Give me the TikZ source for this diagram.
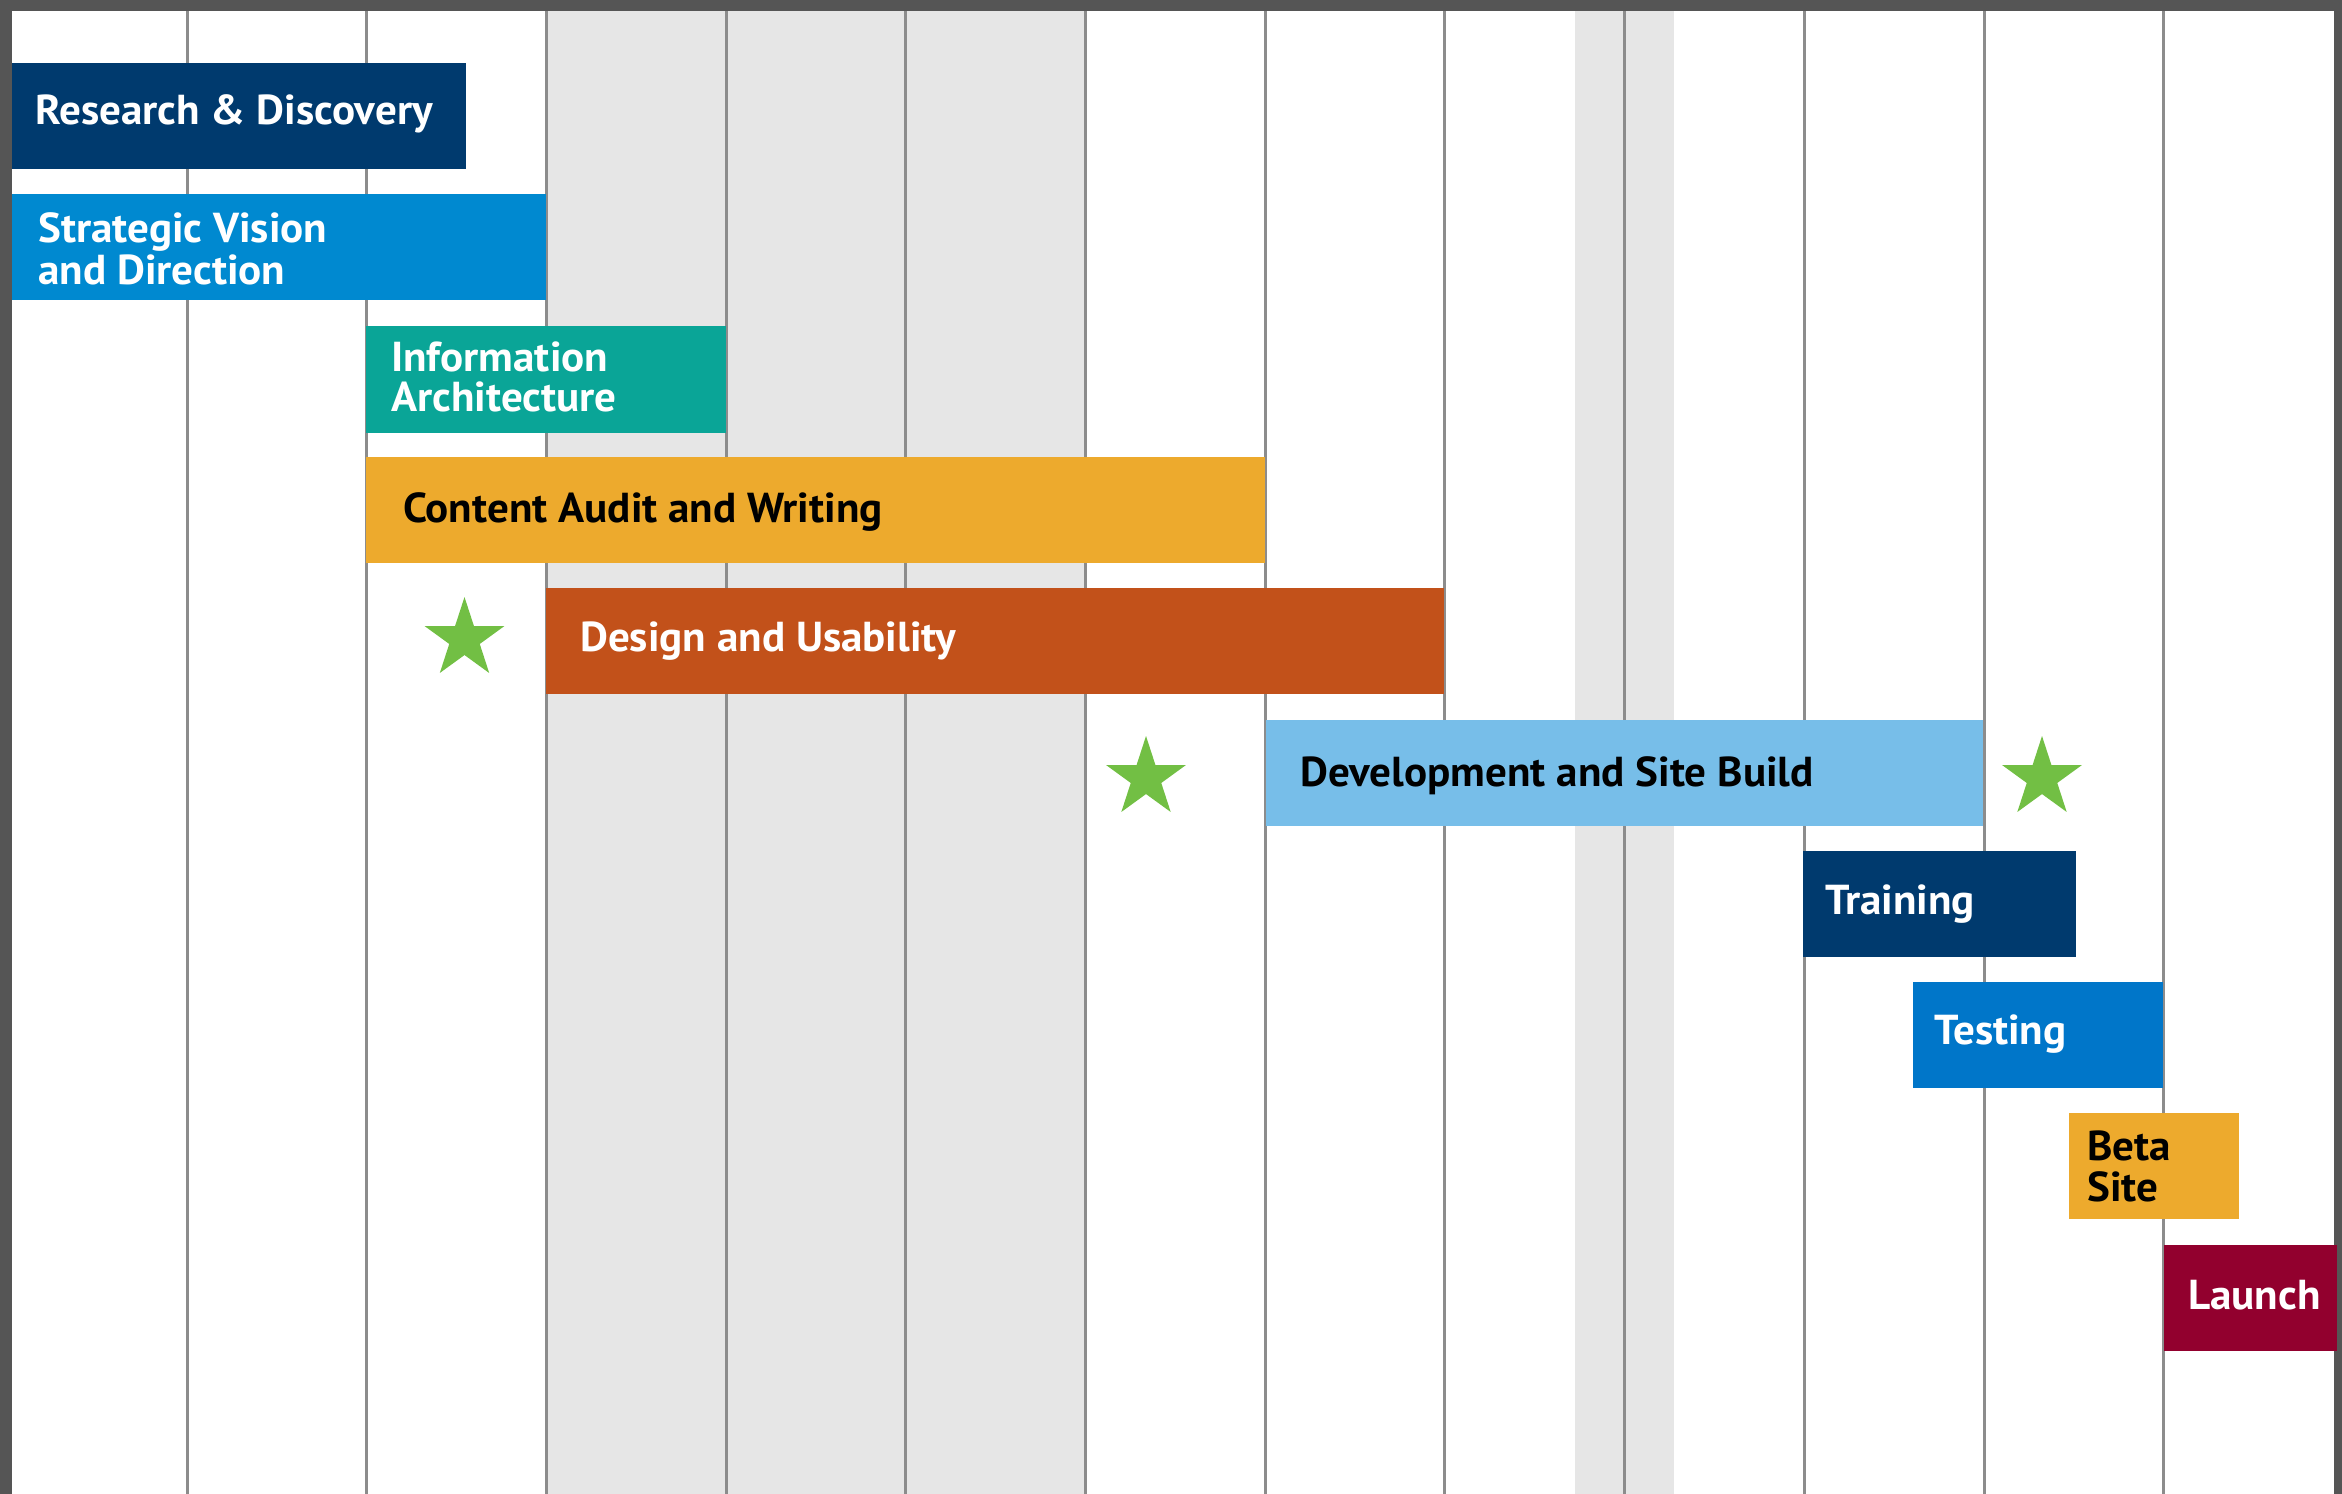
\documentclass[tikz,border=0pt]{standalone}
\usepackage{fontspec}
\setmainfont{PT Sans}[FakeStretch=1.03]
\usetikzlibrary{shapes.geometric}
\definecolor{navy}{HTML}{003A6E}
\definecolor{svblue}{HTML}{0089D0}
\definecolor{teal}{HTML}{0AA597}
\definecolor{gold}{HTML}{EDAA2D}
\definecolor{rust}{HTML}{C2511A}
\definecolor{skyblue}{HTML}{77BEE9}
\definecolor{testblue}{HTML}{0076C9}
\definecolor{wine}{HTML}{92002E}
\definecolor{stargreen}{HTML}{72BF44}
\definecolor{colshade}{HTML}{E6E6E6}
\definecolor{gridgray}{HTML}{8C8C8C}
\definecolor{frame}{HTML}{555555}
\tikzset{
  bar/.style={rectangle, draw=none, inner sep=0pt, anchor=north west},
  lbl/.style={anchor=base west, inner sep=0pt, font=\fontsize{42}{42}\selectfont\bfseries},
  milestone/.style={star, star points=5, star point ratio=2.618, minimum size=84bp, inner sep=0pt, fill=stargreen, draw=none},
  gridline/.style={draw=gridgray, line width=3bp}
}
\begin{document}
\begin{tikzpicture}[x=1bp,y=-1bp]
\useasboundingbox (0,0) rectangle (2342,1494);
\fill[white] (0,0) rectangle (2342,1494);
% shaded columns
\fill[colshade] (546.4,0) rectangle (1085.5,1494);
\fill[colshade] (1575,0) rectangle (1674,1494);
% grid lines
\foreach \gx in {187,366.7,546.4,726.1,905.8,1085.5,1265.2,1444.9,1624.6,1804.3,1984,2163.7}
  \draw[gridline] (\gx,11) -- (\gx,1494);
% frame
\fill[frame] (0,0) rectangle (2342,11);
\fill[frame] (0,0) rectangle (12,1494);
\fill[frame] (2334,0) rectangle (2342,1494);
% bars
\node[bar, fill=navy, minimum width=454bp, minimum height=106bp] (rd) at (12,63) {};
\node[bar, fill=svblue, minimum width=534bp, minimum height=106bp] (sv) at (12,194) {};
\node[bar, fill=teal, minimum width=360bp, minimum height=107bp] (ia) at (366,326) {};
\node[bar, fill=gold, minimum width=899bp, minimum height=106bp] (ca) at (366,457) {};
\node[bar, fill=rust, minimum width=898bp, minimum height=106bp] (du) at (546,588) {};
\node[bar, fill=skyblue, minimum width=717bp, minimum height=106bp] (dev) at (1266,720) {};
\node[bar, fill=navy, minimum width=273bp, minimum height=106bp] (tr) at (1803,851) {};
\node[bar, fill=testblue, minimum width=250bp, minimum height=106bp] (te) at (1913,982) {};
\node[bar, fill=gold, minimum width=170bp, minimum height=106bp] (beta) at (2069,1113) {};
\node[bar, fill=wine, minimum width=173bp, minimum height=106bp] (launch) at (2164,1245) {};
% labels
\node[lbl, text=white] (rdt) at (35,125) {Research \& Discovery};
\node[lbl, text=white] (svt1) at (38,242) {Strategic Vision};
\node[lbl, text=white] (svt2) at (38,284) {and Direction};
\node[lbl, text=white] (iat1) at (391,371) {Information};
\node[lbl, text=white] (iat2) at (391,411) {Architecture};
\node[lbl, text=black] (cat) at (403,522) {Content Audit and Writing};
\node[lbl, text=white] (dut) at (580,651) {Design and Usability};
\node[lbl, text=black] (devt) at (1300,786) {Development and Site Build};
\node[lbl, text=white] (trt) at (1825,914) {Training};
\node[lbl, text=white] (tet) at (1934,1044) {Testing};
\node[lbl, text=black] (betat1) at (2087,1160) {Beta};
\node[lbl, text=black] (betat2) at (2087,1201) {Site};
\node[lbl, text=white] (launcht) at (2188,1309) {Launch};
% milestones
\node[milestone] (m1) at (464.5,639) {};
\node[milestone] (m2) at (1146,778) {};
\node[milestone] (m3) at (2042,778) {};
\end{tikzpicture}
\end{document}
